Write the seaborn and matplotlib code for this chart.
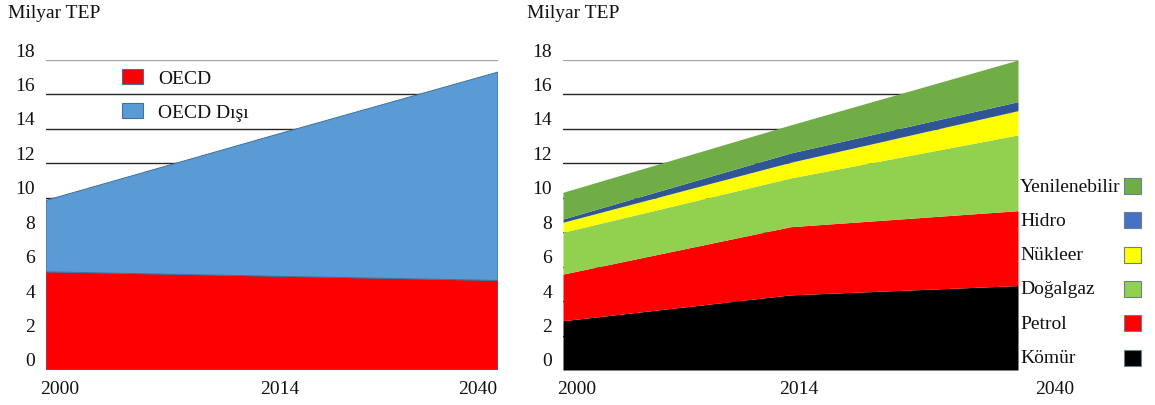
import matplotlib
matplotlib.use("Agg")
import matplotlib.pyplot as plt
import matplotlib.transforms as mtransforms
from matplotlib.patches import Patch, Rectangle
import seaborn as sns
import numpy as np

# Primary energy demand, billion toe
years = ["2000", "2014", "2040"]

region_names = ["OECD", "OECD Dışı"]
oecd = [5.7, 5.45, 5.2]
non_oecd = [4.15, 8.15, 12.1]
region_colors = ["#ff0000", "#5b9bd5"]

fuel_names = ["Kömür", "Petrol", "Doğalgaz", "Nükleer", "Hidro", "Yenilenebilir"]
coal = [2.86, 4.36, 4.90]
oil = [2.71, 3.96, 4.35]
gas = [2.43, 2.83, 4.40]
nuclear = [0.58, 0.91, 1.41]
hydro = [0.19, 0.54, 0.52]
renewables = [1.55, 1.63, 2.42]
fuel_colors = ["#000000", "#ff0000", "#92d050", "#ffff00", "#2f5597", "#70ad47"]
fuel_key_colors = ["#000000", "#ff0000", "#92d050", "#ffff00", "#4472c4", "#70ad47"]

y_ticks = list(range(0, 19, 2))
unit_label = "Milyar TEP"

sns.set_theme(style="white")
plt.rcParams["font.family"] = ["Liberation Serif", "DejaVu Serif"]
plt.rcParams["text.color"] = "#111111"

FS = 14
W, H = 1155, 406
fig = plt.figure(figsize=(W / 100, H / 100), dpi=100)

def px_axes(x0, y_top, w, h):
    return fig.add_axes([x0 / W, (H - y_top - h) / H, w / W, h / H])

ax1 = px_axes(46, 61, 452, 310)
ax2 = px_axes(563, 61, 455, 310)

x = np.arange(len(years))

ax1.stackplot(x, oecd, non_oecd, colors=region_colors,
              edgecolor=["#41719c", "#4a86c0"], linewidth=0.7)
ax2.stackplot(x, coal, oil, gas, nuclear, hydro, renewables,
              colors=fuel_colors, linewidth=0)

def offset(label, dx, dy):
    label.set_transform(label.get_transform() +
                        mtransforms.ScaledTranslation(dx / 100, dy / 100, fig.dpi_scale_trans))

for ax, xshifts in ((ax1, [14, 8, -20]), (ax2, [14, 8, 37])):
    ax.set_xlim(0, len(years) - 1)
    ax.set_ylim(0, 18)
    ax.set_xticks(x)
    ax.set_xticklabels(years, fontsize=FS, color="#111111")
    ax.set_yticks(y_ticks)
    ax.set_yticklabels([str(t) for t in y_ticks], fontsize=FS, color="#111111")
    ax.tick_params(axis="both", length=0)
    ax.tick_params(axis="x", pad=7)
    ax.tick_params(axis="y", pad=8)
    ax.set_axisbelow(True)
    ax.grid(axis="y", color="#262626", linewidth=1.0)
    ax.grid(axis="x", visible=False)
    gls = ax.yaxis.get_gridlines()
    gls[-1].set_color("#a6a6a6")
    ax.set_facecolor("none")
    sns.despine(ax=ax, left=True, bottom=True)
    for lab, dx in zip(ax.get_xticklabels(), xshifts):
        offset(lab, dx, 0)
    for lab in ax.get_yticklabels():
        offset(lab, 0, 11)

fig.text(8 / W, 1 - 14 / H, unit_label, fontsize=FS, va="center", ha="left")
fig.text(527 / W, 1 - 14 / H, unit_label, fontsize=FS, va="center", ha="left")

# Region key
handles = [Patch(facecolor=c, edgecolor="#41719c", linewidth=0.8) for c in region_colors]
fig.legend(handles, region_names, loc="upper left",
           bbox_to_anchor=(122 / W, 1 - 70 / H), frameon=False, fontsize=FS,
           handlelength=1.1, handleheight=0.8, handletextpad=0.75,
           labelspacing=0.8, borderpad=0, borderaxespad=0)

# Fuel key: names on the left, swatches aligned in a column on the right
row_top = 187
row_step = 34.3
for i, (name, c) in enumerate(zip(fuel_names[::-1], fuel_key_colors[::-1])):
    yc = row_top + i * row_step
    fig.text(1020 / W, 1 - yc / H, name, fontsize=FS, va="center", ha="left")
    fig.patches.append(Rectangle((1124 / W, 1 - (yc + 8) / H), 17 / W, 16 / H,
                                 transform=fig.transFigure, facecolor=c,
                                 edgecolor="#6a7f95", linewidth=0.8))

fig.savefig("out.png", dpi=100)
